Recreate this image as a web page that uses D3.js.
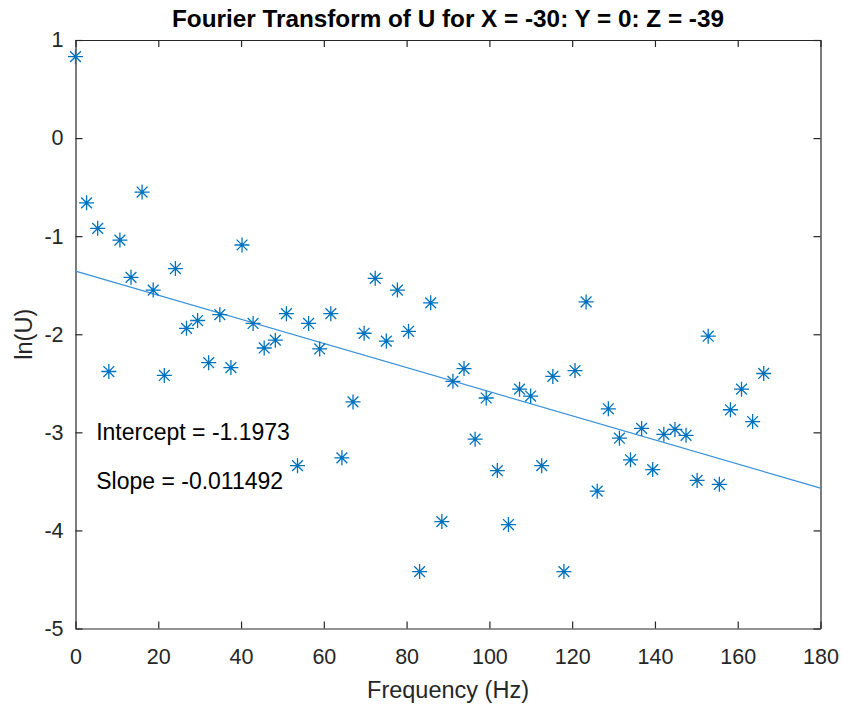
<!DOCTYPE html>
<html>
<head>
<meta charset="utf-8">
<title>Fourier Transform of U</title>
<script src="https://d3js.org/d3.v7.min.js"></script>
<style>
  body { margin: 0; background: #fff; }
  svg { display: block; font-family: "Liberation Sans", Arial, Helvetica, sans-serif; }
</style>
</head>
<body>
<script>
// frequencies (Hz) and ln(U) values
var freq = [0, 2.68, 5.36, 8.05, 10.73, 13.41, 16.09, 18.77, 21.46, 24.14,
  26.82, 29.50, 32.18, 34.87, 37.55, 40.23, 42.91, 45.59, 48.28, 50.96,
  53.64, 56.32, 59.00, 61.69, 64.37, 67.05, 69.73, 72.41, 75.10, 77.78,
  80.46, 83.14, 85.82, 88.51, 91.19, 93.87, 96.55, 99.23, 101.92, 104.60,
  107.28, 109.96, 112.64, 115.33, 118.01, 120.69, 123.37, 126.05, 128.74, 131.42,
  134.10, 136.78, 139.46, 142.15, 144.83, 147.51, 150.19, 152.87, 155.56, 158.24,
  160.92, 163.60, 166.28];
var lnU = [0.83, -0.66, -0.92, -2.38, -1.04, -1.42, -0.55, -1.55, -2.42, -1.33,
  -1.94, -1.86, -2.29, -1.80, -2.34, -1.09, -1.89, -2.14, -2.06, -1.79,
  -3.34, -1.89, -2.15, -1.79, -3.26, -2.69, -1.99, -1.43, -2.07, -1.55,
  -1.97, -4.42, -1.68, -3.91, -2.48, -2.35, -3.07, -2.65, -3.39, -3.94,
  -2.56, -2.63, -3.34, -2.43, -4.42, -2.37, -1.67, -3.60, -2.76, -3.06,
  -3.28, -2.96, -3.38, -3.02, -2.97, -3.03, -3.49, -2.02, -3.53, -2.77,
  -2.56, -2.89, -2.40];

// fitted line, as drawn
var fitX = [0, 180];
var fitY = [-1.356, -3.569];

var xTicks = [0, 20, 40, 60, 80, 100, 120, 140, 160, 180];
var yTicks = [-5, -4, -3, -2, -1, 0, 1];

var notes = [
  {x: 5, y: -3, text: "Intercept = -1.1973"},
  {x: 5, y: -3.5, text: "Slope = -0.011492"}
];

var W = 844, H = 706;
var plotL = 75.5, plotR = 820.5, plotT = 40, plotB = 628.5;
var axisColor = "#262626", blue = "#0072BD";

var svg = d3.select("body").append("svg")
    .attr("width", W)
    .attr("height", H);

var x = d3.scaleLinear().domain([0, 180]).range([plotL, plotR]);
var y = d3.scaleLinear().domain([-5, 1]).range([plotB, plotT]);

// plain hyphen minus like matlab
var fmt = function(d) { return String(d); };

// axes: ticks point inward, box on all sides
var tickLen = 7;
var gx = svg.append("g").attr("transform", "translate(0," + plotB + ")")
    .call(d3.axisBottom(x).tickValues(xTicks).tickFormat(fmt).tickSizeInner(-tickLen).tickSizeOuter(0).tickPadding(20));
var gxTop = svg.append("g").attr("transform", "translate(0," + plotT + ")")
    .call(d3.axisTop(x).tickValues(xTicks).tickSizeInner(-tickLen).tickSizeOuter(0).tickFormat(""));
var gy = svg.append("g").attr("transform", "translate(" + plotL + ",0)")
    .call(d3.axisLeft(y).tickValues(yTicks).tickFormat(fmt).tickSizeInner(-tickLen).tickSizeOuter(0).tickPadding(12));
var gyRight = svg.append("g").attr("transform", "translate(" + plotR + ",0)")
    .call(d3.axisRight(y).tickValues(yTicks).tickSizeInner(-tickLen).tickSizeOuter(0).tickFormat(""));

[gx, gxTop, gy, gyRight].forEach(function(g) {
  g.select(".domain").attr("stroke", axisColor).attr("stroke-width", 1.2);
  g.selectAll(".tick line").attr("stroke", axisColor).attr("stroke-width", 1.2);
  g.selectAll(".tick text").attr("fill", axisColor)
    .style("font-family", "'Liberation Sans', Arial, sans-serif")
    .style("font-size", "21.5px");
});

// fit line
svg.append("path")
    .datum(fitX.map(function(d, i) { return [d, fitY[i]]; }))
    .attr("d", d3.line().x(function(d) { return x(d[0]); }).y(function(d) { return y(d[1]); }))
    .attr("fill", "none")
    .attr("stroke", "#3a92d6")
    .attr("stroke-width", 1.3);

// asterisk markers
var r = 7.5, rd = r * 0.72;
var star = "M0," + (-r) + "V" + r + "M" + (-r) + ",0H" + r +
  "M" + (-rd) + "," + (-rd) + "L" + rd + "," + rd +
  "M" + (-rd) + "," + rd + "L" + rd + "," + (-rd);

svg.selectAll(".pt")
    .data(freq)
    .enter()
    .append("path")
      .attr("class", "pt")
      .attr("d", star)
      .attr("transform", function(d, i) { return "translate(" + x(d) + "," + y(lnU[i]) + ")"; })
      .attr("fill", "none")
      .attr("stroke", blue)
      .attr("stroke-width", 1.3);

// annotations
svg.selectAll(".note")
    .data(notes)
    .enter()
    .append("text")
      .attr("class", "note")
      .attr("x", function(d) { return x(d.x); })
      .attr("y", function(d) { return y(d.y); })
      .attr("dy", "0.35em")
      .attr("fill", "#000")
      .style("font-size", "23px")
      .text(function(d) { return d.text; });

// title and labels
svg.append("text")
    .attr("x", (plotL + plotR) / 2)
    .attr("y", 27)
    .attr("text-anchor", "middle")
    .attr("fill", "#000")
    .style("font-size", "24.3px")
    .style("font-weight", "bold")
    .text("Fourier Transform of U for X = -30: Y = 0: Z = -39");

svg.append("text")
    .attr("x", (plotL + plotR) / 2)
    .attr("y", 698)
    .attr("text-anchor", "middle")
    .attr("fill", axisColor)
    .style("font-size", "23.5px")
    .text("Frequency (Hz)");

svg.append("text")
    .attr("transform", "translate(32," + (plotT + plotB) / 2 + ") rotate(-90)")
    .attr("text-anchor", "middle")
    .attr("fill", axisColor)
    .style("font-size", "23.5px")
    .text("ln(U)");
</script>
</body>
</html>
